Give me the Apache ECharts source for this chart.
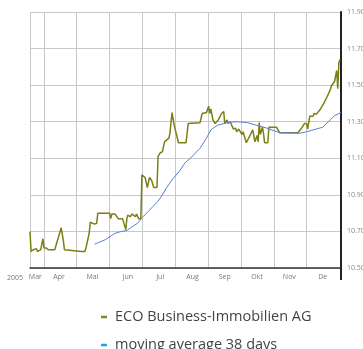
<!DOCTYPE html>
<html>
<head>
<meta charset="utf-8">
<script src="https://cdn.jsdelivr.net/npm/echarts@6/dist/echarts.min.js"></script>
<style>
html, body { margin: 0; padding: 0; background: #fff; }
#main { width: 363px; height: 349px; }
</style>
</head>
<body>
<div id="main"></div>
<script>
// x labels: one per month, placed mid-month
const labelDates = ['2005-03-24', '2005-04-15', '2005-05-16', '2005-06-18', '2005-07-18',
    '2005-08-17', '2005-09-16', '2005-10-16', '2005-11-15', '2005-12-16'];
const monthLabels = ['Mar', 'Apr', 'Mai', 'Jun', 'Jul', 'Aug', 'Sep', 'Okt', 'Nov', 'De'];

const priceDates = [
    '2005-03-19', '2005-03-20', '2005-03-22', '2005-03-23', '2005-03-25', '2005-03-26', '2005-03-29', '2005-03-31',
    '2005-04-01', '2005-04-03', '2005-04-05', '2005-04-06', '2005-04-11', '2005-04-12', '2005-04-17', '2005-04-19', '2005-04-20',
    '2005-05-06', '2005-05-07', '2005-05-09', '2005-05-10', '2005-05-13', '2005-05-14', '2005-05-18', '2005-05-20', '2005-05-21',
    '2005-06-01', '2005-06-02', '2005-06-03', '2005-06-06', '2005-06-09', '2005-06-13', '2005-06-16', '2005-06-17', '2005-06-18',
    '2005-06-20', '2005-06-22', '2005-06-25', '2005-06-26', '2005-06-28', '2005-06-30',
    '2005-07-01', '2005-07-04', '2005-07-06', '2005-07-08', '2005-07-10', '2005-07-12', '2005-07-15', '2005-07-16', '2005-07-18',
    '2005-07-20', '2005-07-22', '2005-07-26', '2005-07-27', '2005-07-29', '2005-07-31',
    '2005-08-01', '2005-08-04', '2005-08-11', '2005-08-13', '2005-08-24', '2005-08-26', '2005-08-30',
    '2005-09-01', '2005-09-02', '2005-09-03', '2005-09-05', '2005-09-07', '2005-09-10', '2005-09-13', '2005-09-15', '2005-09-16',
    '2005-09-18', '2005-09-19', '2005-09-21', '2005-09-22', '2005-09-24', '2005-09-26', '2005-09-27', '2005-09-29', '2005-09-30',
    '2005-10-02', '2005-10-03', '2005-10-06', '2005-10-09', '2005-10-12', '2005-10-14', '2005-10-16', '2005-10-17', '2005-10-18',
    '2005-10-19', '2005-10-21', '2005-10-22', '2005-10-23', '2005-10-26', '2005-10-27', '2005-10-30',
    '2005-11-03', '2005-11-06', '2005-11-23', '2005-11-27', '2005-11-29',
    '2005-12-01', '2005-12-02', '2005-12-04', '2005-12-07', '2005-12-08', '2005-12-10', '2005-12-11', '2005-12-14', '2005-12-17',
    '2005-12-20', '2005-12-23', '2005-12-24', '2005-12-27', '2005-12-29', '2005-12-30', '2005-12-31', '2006-01-01'
];
const priceValues = [
    10.70, 10.59, 10.60, 10.60, 10.605, 10.59, 10.60, 10.66,
    10.61, 10.61, 10.60, 10.595, 10.60, 10.61, 10.72, 10.65, 10.60,
    10.59, 10.58, 10.59, 10.61, 10.69, 10.75, 10.74, 10.745, 10.80,
    10.80, 10.77, 10.795, 10.795, 10.77, 10.77, 10.71, 10.77, 10.79,
    10.78, 10.795, 10.78, 10.795, 10.77, 10.77,
    11.01, 10.995, 10.94, 10.995, 10.98, 10.94, 10.94, 11.11, 11.13,
    11.135, 11.19, 11.21, 11.235, 11.35, 11.28,
    11.29, 11.185, 11.185, 11.29, 11.295, 11.345, 11.35,
    11.385, 11.345, 11.37, 11.31, 11.29, 11.31, 11.345, 11.355, 11.29,
    11.31, 11.29, 11.30, 11.305, 11.26, 11.265, 11.245, 11.26, 11.26,
    11.23, 11.245, 11.185, 11.22, 11.255, 11.19, 11.225, 11.19, 11.295,
    11.23, 11.27, 11.235, 11.185, 11.185, 11.27, 11.27,
    11.27, 11.24, 11.24, 11.27, 11.29,
    11.29, 11.26, 11.33, 11.33, 11.345, 11.34, 11.33, 11.37, 11.40,
    11.435, 11.475, 11.495, 11.52, 11.58, 11.48, 11.62, 11.64
];

const avgDates = [
    '2005-05-18', '2005-05-28', '2005-06-06', '2005-06-12', '2005-06-17', '2005-06-23', '2005-06-27',
    '2005-07-02', '2005-07-07', '2005-07-11', '2005-07-16', '2005-07-20', '2005-07-24', '2005-07-30',
    '2005-08-05', '2005-08-10', '2005-08-15', '2005-08-24', '2005-08-30',
    '2005-09-03', '2005-09-09', '2005-09-18', '2005-09-27', '2005-10-07', '2005-10-16', '2005-10-25',
    '2005-11-06', '2005-11-25', '2005-12-01', '2005-12-16', '2005-12-23', '2005-12-27', '2006-01-02'
];
const avgValues = [
    10.63, 10.655, 10.69, 10.70, 10.705, 10.73, 10.745,
    10.78, 10.81, 10.835, 10.865, 10.90, 10.94, 10.99,
    11.03, 11.075, 11.10, 11.155, 11.21,
    11.255, 11.28, 11.295, 11.30, 11.295, 11.28, 11.265,
    11.24, 11.237, 11.245, 11.27, 11.31, 11.333, 11.35
];

// one category per calendar day
const days = [];
for (let t = Date.UTC(2005, 2, 19); t <= Date.UTC(2006, 0, 2); t += 86400000) {
    days.push(new Date(t).toISOString().slice(0, 10));
}

const font = "'Open Sans', sans-serif";
const priceData = priceDates.map((d, i) => [d, priceValues[i]]);
const avgData = avgDates.map((d, i) => [d, avgValues[i]]);

const chart = echarts.init(document.getElementById('main'));
chart.setOption({
    animation: false,
    // labels on the right run off the edge in the original, so no auto shrinking
    grid: { left: 30, right: 22, top: 12, bottom: 81, outerBoundsMode: 'none' },
    graphic: [{
        type: 'text', left: 7, top: 274,
        style: { text: '2005', fontSize: 7, fontFamily: font, fill: '#777' }
    }],
    legend: {
        orient: 'vertical',
        left: 101,
        top: 308.5,
        height: 80,
        padding: 0,
        icon: 'rect',
        itemWidth: 6,
        itemHeight: 2.5,
        itemGap: 11,
        textStyle: { fontSize: 14.5, lineHeight: 17, fontFamily: font, color: '#444', padding: [0, 0, 0, 3] },
        data: [
            { name: 'ECO Business-Immobilien AG', itemStyle: { color: '#808a1c' } },
            { name: 'moving average 38 days', itemStyle: { color: '#1fa8e8' } }
        ]
    },
    xAxis: {
        type: 'category',
        data: days,
        boundaryGap: false,
        axisLine: { lineStyle: { color: '#333', width: 1.5 } },
        axisTick: {
            show: true,
            interval: (i) => i === days.length - 1,
            length: 12,
            lineStyle: { color: '#222', width: 2 }
        },
        splitLine: {
            show: true,
            interval: (i, v) => i === 0 || v.slice(8) === '01',
            lineStyle: { color: '#c8c8c8', width: 1 }
        },
        axisLabel: {
            interval: (i, v) => labelDates.indexOf(v) >= 0,
            formatter: (v) => monthLabels[labelDates.indexOf(v)],
            fontSize: 7,
            fontFamily: font,
            color: '#777',
            margin: 5
        }
    },
    yAxis: {
        type: 'value',
        position: 'right',
        min: 10.5,
        max: 11.9,
        interval: 0.2,
        axisLine: { show: true, lineStyle: { color: '#222', width: 2 } },
        axisTick: { show: false },
        splitLine: { lineStyle: { color: '#c8c8c8', width: 1 } },
        axisLabel: {
            formatter: (v) => v.toFixed(2),
            fontSize: 7,
            fontFamily: font,
            color: '#888',
            margin: 6
        }
    },
    series: [
        {
            name: 'ECO Business-Immobilien AG',
            type: 'line',
            data: priceData,
            symbol: 'none',
            itemStyle: { color: '#808a1c' },
            lineStyle: { color: '#7b7f14', width: 1.5 }
        },
        {
            name: 'moving average 38 days',
            type: 'line',
            data: avgData,
            symbol: 'none',
            itemStyle: { color: '#1fa8e8' },
            lineStyle: { color: '#5b7fd4', width: 1 }
        }
    ]
});
</script>
</body>
</html>
